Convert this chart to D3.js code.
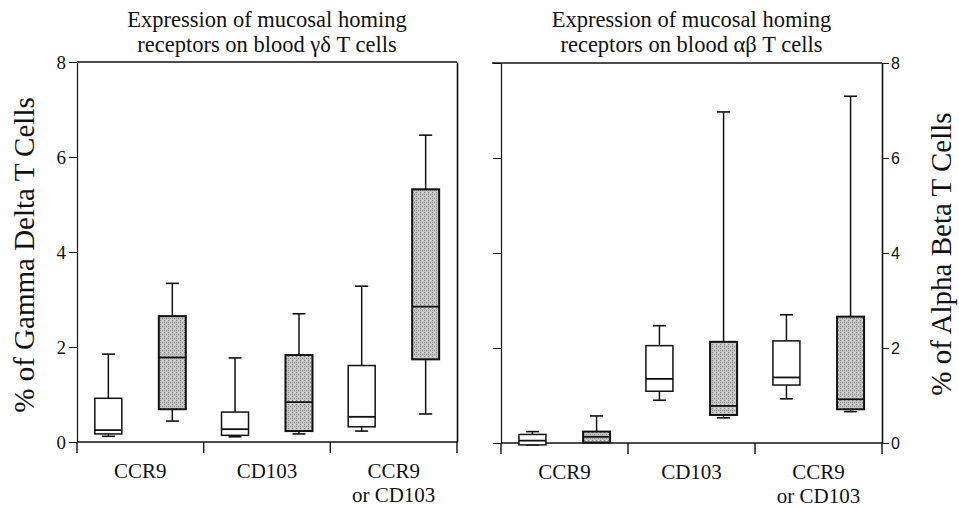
<!DOCTYPE html>
<html>
<head>
<meta charset="UTF-8"/>
<title>Mucosal homing receptors</title>
<script src="https://cdn.jsdelivr.net/npm/d3@7"></script>
<style>
body { margin: 0; background: #fff; }
svg { display: block; }
.axis path, .axis line { stroke: #111; }
</style>
</head>
<body>
<svg width="959" height="508"></svg>
<script>
const categories = ['CCR9', 'CD103', 'CCR9|or CD103'];
const groups = ['open', 'shaded'];
const yTicks = [0, 2, 4, 6, 8];

// [lower whisker, Q1, median, Q3, upper whisker]
const gammaDeltaOpen = [
  [0.12, 0.17, 0.25, 0.92, 1.85],
  [0.11, 0.14, 0.27, 0.63, 1.77],
  [0.23, 0.32, 0.53, 1.61, 3.28]
];
const gammaDeltaShaded = [
  [0.44, 0.69, 1.78, 2.65, 3.34],
  [0.17, 0.23, 0.84, 1.83, 2.70],
  [0.59, 1.74, 2.85, 5.32, 6.46]
];
const alphaBetaOpen = [
  [-0.04, -0.04, 0.05, 0.18, 0.24],
  [0.90, 1.09, 1.35, 2.05, 2.47],
  [0.93, 1.22, 1.38, 2.15, 2.70]
];
const alphaBetaShaded = [
  [0.01, 0.01, 0.13, 0.24, 0.57],
  [0.53, 0.59, 0.78, 2.13, 6.97],
  [0.66, 0.71, 0.92, 2.66, 7.30]
];

const SERIF = "'Liberation Serif', 'Times New Roman', serif";
const SANS = "'Liberation Sans', Arial, sans-serif";

const svg = d3.select('svg');

// stippled fill for the shaded boxes
const pat = svg.append('defs').append('pattern')
  .attr('id', 'stipple')
  .attr('patternUnits', 'userSpaceOnUse')
  .attr('width', 4).attr('height', 4);
pat.append('rect').attr('width', 4).attr('height', 4).attr('fill', '#c4c4c4');
pat.append('rect').attr('x', 0).attr('y', 0).attr('width', 1).attr('height', 1).attr('fill', '#7a7a7a');
pat.append('rect').attr('x', 2).attr('y', 2).attr('width', 1).attr('height', 1).attr('fill', '#8a8a8a');
pat.append('rect').attr('x', 2).attr('y', 0).attr('width', 1).attr('height', 1).attr('fill', '#ececec');
pat.append('rect').attr('x', 0).attr('y', 2).attr('width', 1).attr('height', 1).attr('fill', '#9c9c9c');

function panel(opts) {
  const g = svg.append('g');
  const x = d3.scaleBand().domain(categories).range(opts.xRange);
  const inner = d3.scalePoint().domain(groups).range([0, x.bandwidth()]).padding(0.49);
  const y = d3.scaleLinear().domain([0, 8]).range(opts.yRange);
  const [x0, x1] = opts.xRange;
  const boxW = 27;

  // frame: top line
  g.append('line')
    .attr('x1', opts.side === 'left' ? x0 : x0 - 9).attr('x2', x1)
    .attr('y1', y(8)).attr('y2', y(8))
    .attr('stroke', '#111').attr('stroke-width', 1.6);

  // axes
  const leftAxis = d3.axisLeft(y).tickValues(yTicks).tickSize(8).tickSizeOuter(0);
  const rightAxis = d3.axisRight(y).tickValues(yTicks).tickSize(7).tickSizeOuter(0);

  const la = g.append('g').attr('class', 'axis').attr('transform', `translate(${x0},0)`)
    .call(leftAxis);
  la.select('.domain').attr('stroke-width', 1.2);
  la.selectAll('text')
    .style('font-family', SERIF)
    .style('font-size', '19px')
    .attr('fill', '#111')
    .attr('x', -11);
  if (opts.side === 'right') la.selectAll('text').remove();

  const ra = g.append('g').attr('class', 'axis').attr('transform', `translate(${x1},0)`)
    .call(rightAxis);
  ra.select('.domain').attr('stroke-width', 1.6);
  ra.selectAll('text')
    .style('font-family', SANS)
    .style('font-size', '16px')
    .attr('fill', '#111')
    .attr('x', 9);
  if (opts.side === 'left') ra.selectAll('.tick').remove();

  // bottom axis line with separator ticks
  g.append('line')
    .attr('x1', x0).attr('x2', x1)
    .attr('y1', y(0)).attr('y2', y(0))
    .attr('stroke', '#111').attr('stroke-width', 1.4);
  const edges = categories.map(c => x(c)).concat([x(categories[categories.length - 1]) + x.bandwidth()]);
  g.selectAll('.sep').data(edges).enter().append('line')
    .attr('x1', d => d).attr('x2', d => d)
    .attr('y1', y(0)).attr('y2', y(0) + 11)
    .attr('stroke', '#111').attr('stroke-width', 1.4);

  // category labels
  g.selectAll('.cat').data(categories).enter().append('text')
    .style('font-family', SERIF)
    .style('font-size', '21px')
    .attr('fill', '#111')
    .attr('text-anchor', 'middle')
    .each(function (c) {
      const t = d3.select(this);
      c.split('|').forEach((line, i) => {
        t.append('tspan')
          .attr('x', x(c) + x.bandwidth() / 2)
          .attr('y', y(0) + 36 + i * 24)
          .text(line);
      });
    });

  // boxes
  const series = [
    { key: 'open', stats: opts.open },
    { key: 'shaded', stats: opts.shaded }
  ];
  series.forEach(s => {
    const bg = g.selectAll('.box-' + s.key).data(s.stats).enter().append('g');
    const cx = (d, i) => x(categories[i]) + inner(s.key);
    const sw = s.key === 'shaded' ? 2 : 1.5;
    bg.append('line')
      .attr('x1', cx).attr('x2', cx)
      .attr('y1', d => y(d[4])).attr('y2', d => y(d[3]))
      .attr('stroke', '#111').attr('stroke-width', 1.5);
    bg.append('line')
      .attr('x1', cx).attr('x2', cx)
      .attr('y1', d => y(d[1])).attr('y2', d => y(d[0]))
      .attr('stroke', '#111').attr('stroke-width', 1.5);
    bg.append('line')
      .attr('x1', (d, i) => cx(d, i) - 6.5).attr('x2', (d, i) => cx(d, i) + 6.5)
      .attr('y1', d => y(d[4])).attr('y2', d => y(d[4]))
      .attr('stroke', '#111').attr('stroke-width', 1.6);
    bg.append('line')
      .attr('x1', (d, i) => cx(d, i) - 6.5).attr('x2', (d, i) => cx(d, i) + 6.5)
      .attr('y1', d => y(d[0])).attr('y2', d => y(d[0]))
      .attr('stroke', '#111').attr('stroke-width', 1.6);
    bg.append('rect')
      .attr('x', (d, i) => cx(d, i) - boxW / 2)
      .attr('width', boxW)
      .attr('y', d => y(d[3]))
      .attr('height', d => y(d[1]) - y(d[3]))
      .attr('fill', s.key === 'shaded' ? 'url(#stipple)' : '#fff')
      .attr('stroke', '#111').attr('stroke-width', sw);
    bg.append('line')
      .attr('x1', (d, i) => cx(d, i) - boxW / 2).attr('x2', (d, i) => cx(d, i) + boxW / 2)
      .attr('y1', d => y(d[2])).attr('y2', d => y(d[2]))
      .attr('stroke', '#111').attr('stroke-width', 1.8);
  });

  // title
  const cxTitle = (x0 + x1) / 2;
  [['Expression of mucosal homing', 27], [opts.title, 52]].forEach(([txt, ty]) => {
    g.append('text')
      .style('font-family', SERIF)
      .style('font-size', '22.5px')
      .attr('fill', '#111')
      .attr('text-anchor', 'middle')
      .attr('x', cxTitle).attr('y', ty).text(txt);
  });

  // axis label
  g.append('text')
    .style('font-family', SERIF)
    .style('font-size', '29px')
    .attr('fill', '#111')
    .attr('text-anchor', 'middle')
    .attr('transform', `translate(${opts.labelX},${opts.labelY}) rotate(-90)`)
    .text(opts.label);
}

panel({
  side: 'left',
  xRange: [77, 457],
  yRange: [442, 62],
  open: gammaDeltaOpen,
  shaded: gammaDeltaShaded,
  title: 'receptors on blood \u03b3\u03b4 T cells',
  label: '% of Gamma Delta T Cells',
  labelX: 34,
  labelY: 255
});

panel({
  side: 'right',
  xRange: [501, 882],
  yRange: [443, 63],
  open: alphaBetaOpen,
  shaded: alphaBetaShaded,
  title: 'receptors on blood \u03b1\u03b2 T cells',
  label: '% of Alpha Beta T Cells',
  labelX: 951,
  labelY: 254
});
</script>
</body>
</html>
